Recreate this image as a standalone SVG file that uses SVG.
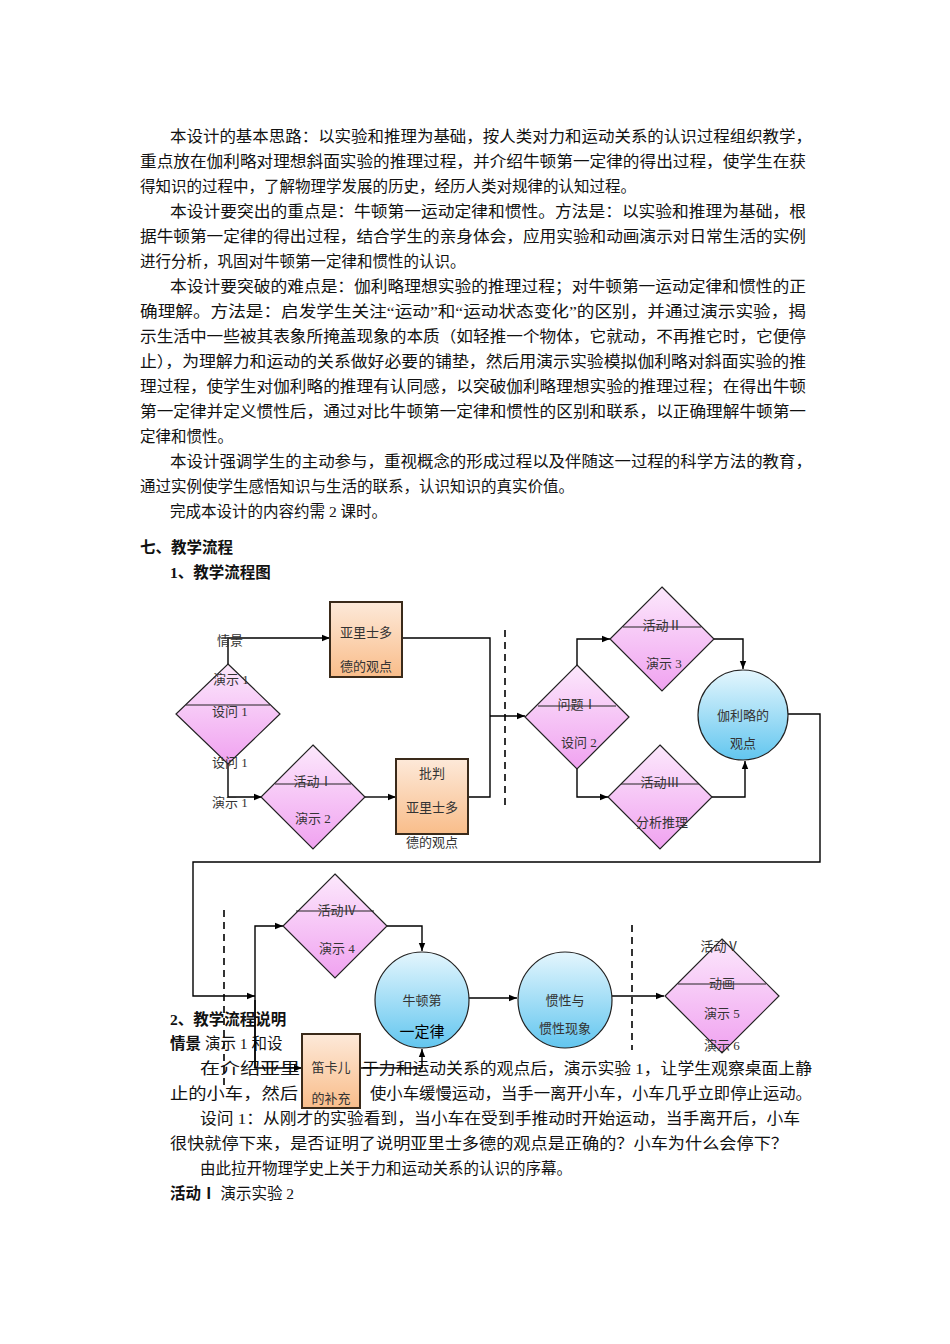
<svg xmlns="http://www.w3.org/2000/svg" width="950" height="1344" viewBox="0 0 950 1344">
<defs>
<linearGradient id="gO" x1="0" y1="0" x2="0" y2="1"><stop offset="0" stop-color="#fde9d9"/><stop offset="1" stop-color="#f9bd8a"/></linearGradient>
<linearGradient id="gP" x1="0" y1="0" x2="0" y2="1"><stop offset="0" stop-color="#fce8fc"/><stop offset="1" stop-color="#f0a2f0"/></linearGradient>
<linearGradient id="gB" x1="0" y1="0" x2="0" y2="1"><stop offset="0" stop-color="#e4f6fd"/><stop offset="1" stop-color="#62c6ef"/></linearGradient>
<marker id="ar" viewBox="0 0 10 10" refX="10" refY="5" markerWidth="8" markerHeight="8" markerUnits="userSpaceOnUse" orient="auto"><path d="M0,1 L10,5 L0,9 z" fill="#000"/></marker>
</defs>
<style>
text{font-family:"Liberation Serif","Noto Sans CJK SC",serif;font-size:15.5px;fill:#111}
.b{font-weight:bold}
.n{font-size:13px;fill:#333;text-anchor:middle}
.box{fill:url(#gO);stroke:#3a2a1a;stroke-width:2}
.dia{fill:url(#gP);stroke:#222;stroke-width:1.2}
.cir{fill:url(#gB);stroke:#222;stroke-width:1.2}
.c{fill:none;stroke:#000;stroke-width:1.4}
.a{marker-end:url(#ar)}
.dash{stroke:#000;stroke-width:1.6;stroke-dasharray:7,5}
</style>
<rect width="950" height="1344" fill="#fff"/>
<g id="body">
<text x="170" y="142" textLength="642" lengthAdjust="spacingAndGlyphs">本设计的基本思路：以实验和推理为基础，按人类对力和运动关系的认识过程组织教学，</text>
<text x="140" y="167" textLength="666" lengthAdjust="spacingAndGlyphs">重点放在伽利略对理想斜面实验的推理过程，并介绍牛顿第一定律的得出过程，使学生在获</text>
<text x="140" y="192">得知识的过程中，了解物理学发展的历史，经历人类对规律的认知过程。</text>
<text x="170" y="217" textLength="636" lengthAdjust="spacingAndGlyphs">本设计要突出的重点是：牛顿第一运动定律和惯性。方法是：以实验和推理为基础，根</text>
<text x="140" y="242" textLength="666" lengthAdjust="spacingAndGlyphs">据牛顿第一定律的得出过程，结合学生的亲身体会，应用实验和动画演示对日常生活的实例</text>
<text x="140" y="267">进行分析，巩固对牛顿第一定律和惯性的认识。</text>
<text x="170" y="292" textLength="636" lengthAdjust="spacingAndGlyphs">本设计要突破的难点是：伽利略理想实验的推理过程；对牛顿第一运动定律和惯性的正</text>
<text x="140" y="317" textLength="666" lengthAdjust="spacingAndGlyphs">确理解。方法是：启发学生关注“运动”和“运动状态变化”的区别，并通过演示实验，揭</text>
<text x="140" y="342" textLength="666" lengthAdjust="spacingAndGlyphs">示生活中一些被其表象所掩盖现象的本质（如轻推一个物体，它就动，不再推它时，它便停</text>
<text x="140" y="367" textLength="666" lengthAdjust="spacingAndGlyphs">止），为理解力和运动的关系做好必要的铺垫，然后用演示实验模拟伽利略对斜面实验的推</text>
<text x="140" y="392" textLength="666" lengthAdjust="spacingAndGlyphs">理过程，使学生对伽利略的推理有认同感，以突破伽利略理想实验的推理过程；在得出牛顿</text>
<text x="140" y="417" textLength="666" lengthAdjust="spacingAndGlyphs">第一定律并定义惯性后，通过对比牛顿第一定律和惯性的区别和联系，以正确理解牛顿第一</text>
<text x="140" y="442">定律和惯性。</text>
<text x="170" y="467" textLength="642" lengthAdjust="spacingAndGlyphs">本设计强调学生的主动参与，重视概念的形成过程以及伴随这一过程的科学方法的教育，</text>
<text x="140" y="492">通过实例使学生感悟知识与生活的联系，认识知识的真实价值。</text>
<text x="170" y="517">完成本设计的内容约需 2 课时。</text>
<text x="140" y="553" class="b">七、教学流程</text>
<text x="170" y="578" class="b">1、教学流程图</text>
<text x="170" y="1025" class="b">2、教学流程说明</text>
<text x="170" y="1049"><tspan class="b">情景</tspan> 演示 1 和设</text>
<text x="200" y="1074" textLength="100" lengthAdjust="spacingAndGlyphs">在介绍亚里</text>
<text x="362" y="1074" textLength="450" lengthAdjust="spacingAndGlyphs">于力和运动关系的观点后，演示实验 1，让学生观察桌面上静</text>
<text x="170" y="1099" textLength="128" lengthAdjust="spacingAndGlyphs">止的小车，然后</text>
<text x="370" y="1099" textLength="442" lengthAdjust="spacingAndGlyphs">使小车缓慢运动，当手一离开小车，小车几乎立即停止运动。</text>
<text x="200" y="1124" textLength="600" lengthAdjust="spacingAndGlyphs">设问 1：从刚才的实验看到，当小车在受到手推动时开始运动，当手离开后，小车</text>
<text x="170" y="1149" textLength="618" lengthAdjust="spacingAndGlyphs">很快就停下来，是否证明了说明亚里士多德的观点是正确的？小车为什么会停下？</text>
<text x="200" y="1174">由此拉开物理学史上关于力和运动关系的认识的序幕。</text>
<text x="170" y="1199"><tspan class="b">活动Ⅰ</tspan> 演示实验 2</text>
</g>
<g id="dashes">
<line class="dash" x1="505" y1="630" x2="505" y2="808"/>
<line class="dash" x1="224" y1="910" x2="224" y2="1090"/>
<line class="dash" x1="632" y1="925" x2="632" y2="1050"/>
</g>
<g id="connectors">
<path class="c a" d="M228,664 V638 H330"/>
<path class="c a" d="M228,764 V797 H262"/>
<path class="c a" d="M365,797 H396"/>
<path class="c" d="M402,638 H490 V797 H468"/>
<path class="c a" d="M490,716 H525"/>
<path class="c a" d="M577,665 V639 H610"/>
<path class="c a" d="M577,769 V797 H608"/>
<path class="c a" d="M714,639 H743 V669"/>
<path class="c a" d="M712,797 H745 V761"/>
<path class="c a" d="M788,714 H820 V862 H193 V996 H255"/>
<path class="c a" d="M255,1068 V926 H283"/>
<path class="c a" d="M255,1000 V1068 H302"/>
<path class="c a" d="M387,926 H422 V951"/>
<path class="c a" d="M360,1068 H422 V1049"/>
<path class="c a" d="M469,998 H517"/>
<path class="c a" d="M612,996 H664"/>
</g>
<g id="n1"><rect class="box" x="330" y="602" width="72" height="75"/><text class="n" x="366" y="637">亚里士多</text><text class="n" x="366" y="671">德的观点</text></g>
<g id="n2"><path class="dia" d="M228,664 L280,714 L228,764 L176,714 z"/><line x1="186" y1="705" x2="270" y2="705" stroke="#222"/><text class="n" x="231" y="684">演示 1</text><text class="n" x="230" y="716">设问 1</text></g>
<text class="n" x="230" y="645">情景</text>
<text class="n" x="230" y="767">设问 1</text>
<text class="n" x="230" y="807">演示 1</text>
<g id="n3"><path class="dia" d="M313,745 L365,797 L313,849 L261,797 z"/><line x1="275" y1="784" x2="351" y2="784" stroke="#222"/><text class="n" x="313" y="786">活动Ⅰ</text><text class="n" x="313" y="823">演示 2</text></g>
<g id="n4"><rect class="box" x="396" y="759" width="72" height="75"/><text class="n" x="432" y="778">批判</text><text class="n" x="432" y="812">亚里士多</text><text class="n" x="432" y="847">德的观点</text></g>
<g id="n5"><path class="dia" d="M577,665 L629,717 L577,769 L525,717 z"/><line x1="538" y1="706" x2="616" y2="706" stroke="#222"/><text class="n" x="577" y="709">问题Ⅰ</text><text class="n" x="579" y="747">设问 2</text></g>
<g id="n6"><path class="dia" d="M662,587 L714,639 L662,691 L610,639 z"/><line x1="623" y1="627" x2="701" y2="627" stroke="#222"/><text class="n" x="662" y="630">活动Ⅱ</text><text class="n" x="664" y="668">演示 3</text></g>
<g id="n7"><path class="dia" d="M660,745 L712,797 L660,849 L608,797 z"/><line x1="621" y1="784" x2="699" y2="784" stroke="#222"/><text class="n" x="660" y="787">活动Ⅲ</text><text class="n" x="662" y="827">分析推理</text></g>
<g id="n8"><circle class="cir" cx="743" cy="715" r="45"/><text class="n" x="743" y="720">伽利略的</text><text class="n" x="743" y="748">观点</text></g>
<g id="n9"><path class="dia" d="M335,874 L387,926 L335,978 L283,926 z"/><line x1="296" y1="911" x2="374" y2="911" stroke="#222"/><text class="n" x="337" y="915">活动Ⅳ</text><text class="n" x="337" y="953">演示 4</text></g>
<g id="n10"><ellipse class="cir" cx="422" cy="1000" rx="47" ry="48"/><text class="n" x="422" y="1005">牛顿第</text><text class="n" x="422" y="1037" style="font-size:15px;fill:#000">一定律</text></g>
<g id="n11"><ellipse class="cir" cx="565" cy="1000" rx="47" ry="48"/><text class="n" x="565" y="1005">惯性与</text><text class="n" x="565" y="1033">惯性现象</text></g>
<g id="n12"><path class="dia" d="M722,939 L779,996 L722,1053 L665,996 z"/><line x1="678" y1="984" x2="766" y2="984" stroke="#222"/><text class="n" x="720" y="951">活动Ⅴ</text><text class="n" x="722" y="988">动画</text><text class="n" x="722" y="1018">演示 5</text><text class="n" x="722" y="1050">演示 6</text></g>
<g id="n13"><rect class="box" x="302" y="1034" width="58" height="74"/><text class="n" x="331" y="1072">笛卡儿</text><text class="n" x="331" y="1103">的补充</text></g>
</svg>
